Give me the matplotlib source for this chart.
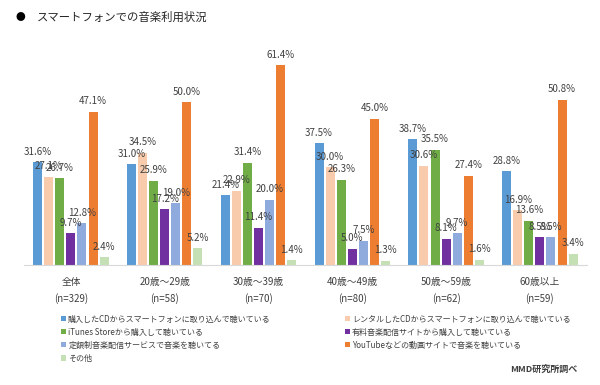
import numpy as np
import matplotlib
matplotlib.use("Agg")
import matplotlib.pyplot as plt
from matplotlib.patches import Patch

plt.rcParams['font.family'] = ['Noto Sans CJK JP', 'DejaVu Sans']

# categories (age groups) and sample sizes
groups = ['全体', '20歳～29歳', '30歳～39歳', '40歳～49歳', '50歳～59歳', '60歳以上']
samples = ['(n=329)', '(n=58)', '(n=70)', '(n=80)', '(n=62)', '(n=59)']

series_names = [
    '購入したCDからスマートフォンに取り込んで聴いている',
    'レンタルしたCDからスマートフォンに取り込んで聴いている',
    'iTunes Storeから購入して聴いている',
    '有料音楽配信サイトから購入して聴いている',
    '定額制音楽配信サービスで音楽を聴いてる',
    'YouTubeなどの動画サイトで音楽を聴いている',
    'その他',
]

# values per series, one per age group (%)
bought_cd = [31.6, 31.0, 21.4, 37.5, 38.7, 28.8]
rental_cd = [27.1, 34.5, 22.9, 30.0, 30.6, 16.9]
itunes = [26.7, 25.9, 31.4, 26.3, 35.5, 13.6]
paid_site = [9.7, 17.2, 11.4, 5.0, 8.1, 8.5]
subscription = [12.8, 19.0, 20.0, 7.5, 9.7, 8.5]
youtube = [47.1, 50.0, 61.4, 45.0, 27.4, 50.8]
other = [2.4, 5.2, 1.4, 1.3, 1.6, 3.4]

series = [bought_cd, rental_cd, itunes, paid_site, subscription, youtube, other]
colors = ['#5B9BD5', '#F8CBAD', '#70AD47', '#7030A0', '#8FAADC', '#ED7D31', '#C5E0B4']

text_color = '#404040'

fig = plt.figure(figsize=(6, 3.85), dpi=100)
ax = fig.add_axes([0.04, 0.3117, 0.938, 0.591])

x = np.arange(len(groups))
slot = 0.118
width = 0.096
n = len(series)
for i, (vals, col) in enumerate(zip(series, colors)):
    pos = x + (i - (n - 1) / 2) * slot
    bars = ax.bar(pos, vals, width=width, color=col)
    for b, v in zip(bars, vals):
        ax.annotate(f'{v:.1f}%', (b.get_x() + b.get_width() / 2, b.get_height()),
                    xytext=(0, 4), textcoords='offset points',
                    ha='center', va='bottom', fontsize=7, color=text_color)

ax.set_xlim(-0.5, len(groups) - 0.5)
ax.set_ylim(0, 70)
ax.set_yticks([])
ax.set_xticks(x)
ax.set_xticklabels([f'{g}\n{s}' for g, s in zip(groups, samples)],
                   fontsize=7, color=text_color, linespacing=1.6)
ax.tick_params(axis='x', length=0, pad=9)
for s in ['top', 'right', 'left']:
    ax.spines[s].set_visible(False)
ax.spines['bottom'].set_color('#D9D9D9')

# title
fig.text(0.025, 0.955, '●', fontsize=7, color='black', va='center')
fig.text(0.062, 0.955, 'スマートフォンでの音楽利用状況', fontsize=8.2,
         color='#262626', va='center')

# legend in two columns (row-major order like the original)
handles = [Patch(facecolor=c, edgecolor='none') for c in colors]
left_idx = [0, 2, 4, 6]
right_idx = [1, 3, 5]
for idx, xpos in ((left_idx, 0.095), (right_idx, 0.568)):
    fig.legend([handles[i] for i in idx], [series_names[i] for i in idx],
               loc='upper left', bbox_to_anchor=(xpos, 0.193),
               frameon=False, fontsize=5.8, handlelength=0.6, handleheight=0.6,
               handletextpad=0.3, labelspacing=0.5, borderpad=0,
               labelcolor=text_color)

fig.text(0.963, 0.042, 'MMD研究所調べ', fontsize=6.5, fontweight='bold',
         color=text_color, ha='right', va='center')

fig.savefig('out.png', dpi=100)
